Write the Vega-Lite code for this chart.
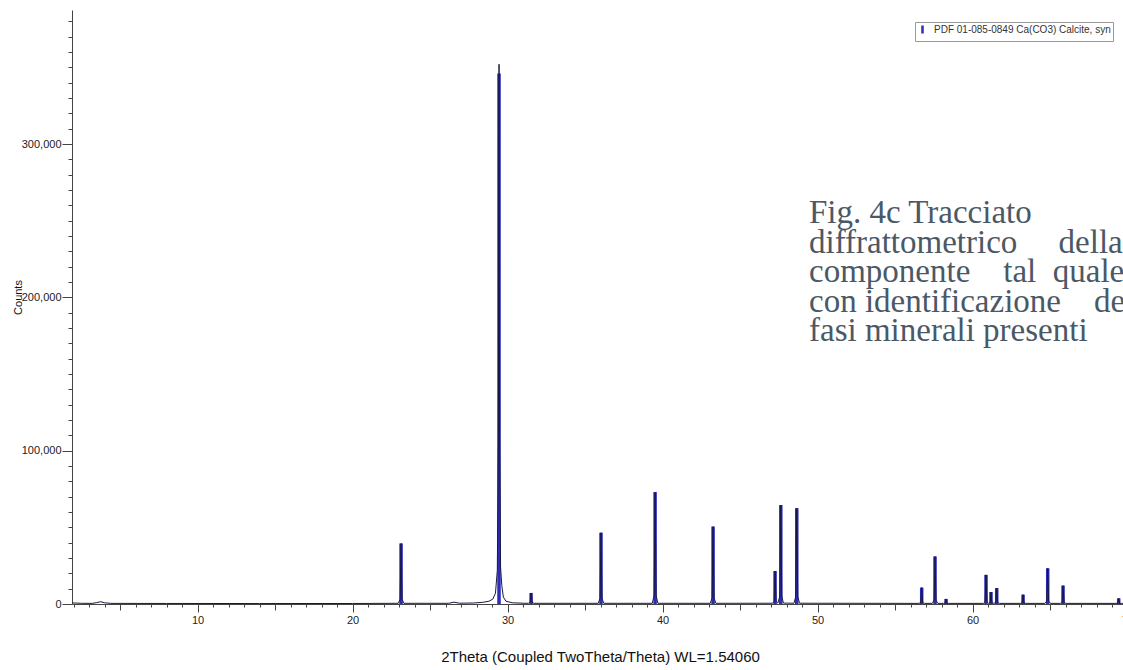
{
  "$schema": "https://vega.github.io/schema/vega-lite/v6.json",
  "width": 1056,
  "height": 594,
  "autosize": {"type": "none"},
  "padding": {"left": 72, "top": 10, "right": -5, "bottom": 66},
  "background": "white",
  "config": {
    "view": {"stroke": null},
    "font": "Liberation Sans",
    "axis": {
      "grid": false,
      "domainColor": "#444444",
      "tickColor": "#444444",
      "labelColor": "#222222",
      "labelFont": "Liberation Sans",
      "labelFontSize": 11,
      "titleFont": "Liberation Sans",
      "titleColor": "#111111",
      "titleFontWeight": "normal"
    }
  },
  "datasets": {
    "scan": [
      {"twotheta": 1.92, "counts": 700},
      {"twotheta": 2.5, "counts": 450},
      {"twotheta": 3.2, "counts": 400},
      {"twotheta": 3.5, "counts": 900},
      {"twotheta": 3.75, "counts": 1500},
      {"twotheta": 4.0, "counts": 800},
      {"twotheta": 4.4, "counts": 400},
      {"twotheta": 8.0, "counts": 350},
      {"twotheta": 14.0, "counts": 300},
      {"twotheta": 20.0, "counts": 330},
      {"twotheta": 22.95, "counts": 450},
      {"twotheta": 23.07, "counts": 3200},
      {"twotheta": 23.13, "counts": 39500},
      {"twotheta": 23.19, "counts": 3200},
      {"twotheta": 23.31, "counts": 450},
      {"twotheta": 26.2, "counts": 450},
      {"twotheta": 26.55, "counts": 1200},
      {"twotheta": 26.9, "counts": 500},
      {"twotheta": 27.8, "counts": 650},
      {"twotheta": 28.4, "counts": 1100},
      {"twotheta": 28.8, "counts": 1800},
      {"twotheta": 29.05, "counts": 3200},
      {"twotheta": 29.22, "counts": 7000},
      {"twotheta": 29.34, "counts": 22000},
      {"twotheta": 29.41, "counts": 110000},
      {"twotheta": 29.45, "counts": 352000},
      {"twotheta": 29.49, "counts": 110000},
      {"twotheta": 29.55, "counts": 24000},
      {"twotheta": 29.63, "counts": 12000},
      {"twotheta": 29.73, "counts": 4500},
      {"twotheta": 29.9, "counts": 1800},
      {"twotheta": 30.3, "counts": 800},
      {"twotheta": 31.0, "counts": 500},
      {"twotheta": 31.35, "counts": 450},
      {"twotheta": 31.46, "counts": 1200},
      {"twotheta": 31.52, "counts": 7200},
      {"twotheta": 31.58, "counts": 1200},
      {"twotheta": 31.7, "counts": 450},
      {"twotheta": 35.85, "counts": 450},
      {"twotheta": 35.97, "counts": 3700},
      {"twotheta": 36.03, "counts": 46500},
      {"twotheta": 36.09, "counts": 3700},
      {"twotheta": 36.21, "counts": 450},
      {"twotheta": 39.34, "counts": 450},
      {"twotheta": 39.46, "counts": 5800},
      {"twotheta": 39.52, "counts": 73000},
      {"twotheta": 39.58, "counts": 5800},
      {"twotheta": 39.7, "counts": 450},
      {"twotheta": 43.08, "counts": 450},
      {"twotheta": 43.2, "counts": 4000},
      {"twotheta": 43.26, "counts": 50500},
      {"twotheta": 43.32, "counts": 4000},
      {"twotheta": 43.44, "counts": 450},
      {"twotheta": 47.1, "counts": 500},
      {"twotheta": 47.2, "counts": 1800},
      {"twotheta": 47.26, "counts": 21500},
      {"twotheta": 47.32, "counts": 1800},
      {"twotheta": 47.44, "counts": 600},
      {"twotheta": 47.57, "counts": 5200},
      {"twotheta": 47.63, "counts": 64500},
      {"twotheta": 47.69, "counts": 5200},
      {"twotheta": 47.8, "counts": 600},
      {"twotheta": 48.48, "counts": 500},
      {"twotheta": 48.6, "counts": 5000},
      {"twotheta": 48.66, "counts": 62500},
      {"twotheta": 48.72, "counts": 5000},
      {"twotheta": 48.84, "counts": 500},
      {"twotheta": 56.54, "counts": 400},
      {"twotheta": 56.66, "counts": 900},
      {"twotheta": 56.72, "counts": 10700},
      {"twotheta": 56.78, "counts": 900},
      {"twotheta": 56.9, "counts": 400},
      {"twotheta": 57.4, "counts": 400},
      {"twotheta": 57.52, "counts": 2500},
      {"twotheta": 57.58, "counts": 31000},
      {"twotheta": 57.64, "counts": 2500},
      {"twotheta": 57.76, "counts": 400},
      {"twotheta": 58.11, "counts": 400},
      {"twotheta": 58.23, "counts": 500},
      {"twotheta": 58.29, "counts": 3300},
      {"twotheta": 58.35, "counts": 500},
      {"twotheta": 58.47, "counts": 400},
      {"twotheta": 60.7, "counts": 400},
      {"twotheta": 60.81, "counts": 1500},
      {"twotheta": 60.87, "counts": 19000},
      {"twotheta": 60.93, "counts": 1500},
      {"twotheta": 61.03, "counts": 500},
      {"twotheta": 61.14, "counts": 700},
      {"twotheta": 61.19, "counts": 7800},
      {"twotheta": 61.25, "counts": 700},
      {"twotheta": 61.38, "counts": 500},
      {"twotheta": 61.5, "counts": 900},
      {"twotheta": 61.56, "counts": 10400},
      {"twotheta": 61.62, "counts": 900},
      {"twotheta": 61.74, "counts": 400},
      {"twotheta": 63.08, "counts": 400},
      {"twotheta": 63.2, "counts": 600},
      {"twotheta": 63.26, "counts": 6100},
      {"twotheta": 63.32, "counts": 600},
      {"twotheta": 63.44, "counts": 400},
      {"twotheta": 64.67, "counts": 400},
      {"twotheta": 64.79, "counts": 1900},
      {"twotheta": 64.85, "counts": 23300},
      {"twotheta": 64.91, "counts": 1900},
      {"twotheta": 65.03, "counts": 400},
      {"twotheta": 65.66, "counts": 400},
      {"twotheta": 65.78, "counts": 1000},
      {"twotheta": 65.84, "counts": 12000},
      {"twotheta": 65.9, "counts": 1000},
      {"twotheta": 66.02, "counts": 400},
      {"twotheta": 69.25, "counts": 400},
      {"twotheta": 69.37, "counts": 500},
      {"twotheta": 69.43, "counts": 3700},
      {"twotheta": 69.49, "counts": 500},
      {"twotheta": 69.61, "counts": 400},
      {"twotheta": 70.03, "counts": 400}
    ],
    "sticks": [
      {"twotheta": 23.13, "I": 39500, "phase": "PDF 01-085-0849 Ca(CO3) Calcite, syn"},
      {"twotheta": 29.45, "I": 346000, "phase": "PDF 01-085-0849 Ca(CO3) Calcite, syn"},
      {"twotheta": 31.52, "I": 7200, "phase": "PDF 01-085-0849 Ca(CO3) Calcite, syn"},
      {"twotheta": 36.03, "I": 46500, "phase": "PDF 01-085-0849 Ca(CO3) Calcite, syn"},
      {"twotheta": 39.52, "I": 73000, "phase": "PDF 01-085-0849 Ca(CO3) Calcite, syn"},
      {"twotheta": 43.26, "I": 50500, "phase": "PDF 01-085-0849 Ca(CO3) Calcite, syn"},
      {"twotheta": 47.26, "I": 21500, "phase": "PDF 01-085-0849 Ca(CO3) Calcite, syn"},
      {"twotheta": 47.63, "I": 64500, "phase": "PDF 01-085-0849 Ca(CO3) Calcite, syn"},
      {"twotheta": 48.66, "I": 62500, "phase": "PDF 01-085-0849 Ca(CO3) Calcite, syn"},
      {"twotheta": 56.72, "I": 10700, "phase": "PDF 01-085-0849 Ca(CO3) Calcite, syn"},
      {"twotheta": 57.58, "I": 31000, "phase": "PDF 01-085-0849 Ca(CO3) Calcite, syn"},
      {"twotheta": 58.29, "I": 3300, "phase": "PDF 01-085-0849 Ca(CO3) Calcite, syn"},
      {"twotheta": 60.87, "I": 19000, "phase": "PDF 01-085-0849 Ca(CO3) Calcite, syn"},
      {"twotheta": 61.19, "I": 7800, "phase": "PDF 01-085-0849 Ca(CO3) Calcite, syn"},
      {"twotheta": 61.56, "I": 10400, "phase": "PDF 01-085-0849 Ca(CO3) Calcite, syn"},
      {"twotheta": 63.26, "I": 6100, "phase": "PDF 01-085-0849 Ca(CO3) Calcite, syn"},
      {"twotheta": 64.85, "I": 23300, "phase": "PDF 01-085-0849 Ca(CO3) Calcite, syn"},
      {"twotheta": 65.84, "I": 12000, "phase": "PDF 01-085-0849 Ca(CO3) Calcite, syn"},
      {"twotheta": 69.43, "I": 3700, "phase": "PDF 01-085-0849 Ca(CO3) Calcite, syn"}
    ],
    "note": [
      {"tx": 49.45, "ty": 248500, "label": ["Fig. 4c Tracciato", "diffrattometrico\u00a0\u00a0\u00a0\u00a0\u00a0della", "componente\u00a0\u00a0\u00a0\u00a0tal\u00a0\u00a0quale", "con\u00a0identificazione\u00a0\u00a0\u00a0\u00a0delle", "fasi minerali presenti"]}
    ]
  },
  "layer": [
    {
      "data": {"name": "sticks"},
      "mark": {"type": "rule", "strokeWidth": 3.5},
      "encoding": {
        "x": {
          "field": "twotheta", "type": "quantitative",
          "scale": {"domain": [1.9, 70.03], "nice": false, "zero": false},
          "axis": {"orient": "bottom", "values": [5, 15, 25, 35, 45, 55, 65], "labels": false, "tickSize": 6, "domain": false, "title": null}
        },
        "y": {
          "field": "I", "type": "quantitative",
          "scale": {"domain": [0, 387400], "nice": false, "zero": false},
          "axis": {"orient": "left", "values": [10000, 20000, 30000, 40000, 50000, 60000, 70000, 80000, 90000, 110000, 120000, 130000, 140000, 150000, 160000, 170000, 180000, 190000, 210000, 220000, 230000, 240000, 250000, 260000, 270000, 280000, 290000, 310000, 320000, 330000, 340000, 350000, 360000, 370000, 380000], "labels": false, "tickSize": 4, "domain": false, "title": null}
        },
        "y2": {"datum": 0},
        "color": {
          "field": "phase", "type": "nominal",
          "scale": {"range": ["#2c2cbc"]},
          "legend": {
            "title": null, "orient": "none", "legendX": 843, "legendY": 12,
            "labelFontSize": 10, "labelFont": "Liberation Sans", "labelColor": "#333333", "labelLimit": 400,
            "symbolType": "M0,-1L0,1", "symbolSize": 64, "symbolStrokeWidth": 2.5,
            "padding": 2, "strokeColor": "#9a9a9a", "fillColor": "#ffffff", "labelOffset": 6
          }
        }
      }
    },
    {
      "data": {"name": "scan"},
      "mark": {"type": "line", "color": "#18183e", "strokeWidth": 1},
      "encoding": {
        "x": {
          "field": "twotheta", "type": "quantitative",
          "scale": {"domain": [1.9, 70.03], "nice": false, "zero": false},
          "axis": {"orient": "bottom", "values": [10, 20, 30, 40, 50, 60, 70], "tickSize": 8, "labelPadding": 2, "labelFlush": false, "labelOverlap": false, "title": "2Theta (Coupled TwoTheta/Theta) WL=1.54060", "titleFontSize": 15, "titleY": 52, "titleBaseline": "middle"}
        },
        "y": {
          "field": "counts", "type": "quantitative",
          "scale": {"domain": [0, 387400], "nice": false, "zero": false},
          "axis": {"orient": "left", "values": [0, 100000, 200000, 300000], "format": ",d", "tickSize": 10, "labelPadding": 1, "labelFlush": false, "labelOverlap": false, "title": "Counts", "titleFontSize": 11, "titleX": -54, "titleY": 287, "titleBaseline": "middle"}
        }
      }
    },
    {
      "data": {"name": "note"},
      "mark": {"type": "text", "font": "Liberation Serif", "fontSize": 33, "color": "#4b5866", "align": "left", "baseline": "alphabetic", "lineHeight": 29.6},
      "encoding": {
        "x": {
          "field": "tx", "type": "quantitative",
          "scale": {"domain": [1.9, 70.03], "nice": false, "zero": false},
          "axis": {"orient": "bottom", "values": [2, 3, 4, 6, 7, 8, 9, 11, 12, 13, 14, 16, 17, 18, 19, 21, 22, 23, 24, 26, 27, 28, 29, 31, 32, 33, 34, 36, 37, 38, 39, 41, 42, 43, 44, 46, 47, 48, 49, 51, 52, 53, 54, 56, 57, 58, 59, 61, 62, 63, 64, 66, 67, 68, 69], "labels": false, "tickSize": 3, "domain": false, "title": null}
        },
        "y": {
          "field": "ty", "type": "quantitative",
          "scale": {"domain": [0, 387400], "nice": false, "zero": false},
          "axis": null
        },
        "text": {"field": "label", "type": "nominal"}
      }
    }
  ],
  "resolve": {"axis": {"x": "independent", "y": "independent"}}
}
